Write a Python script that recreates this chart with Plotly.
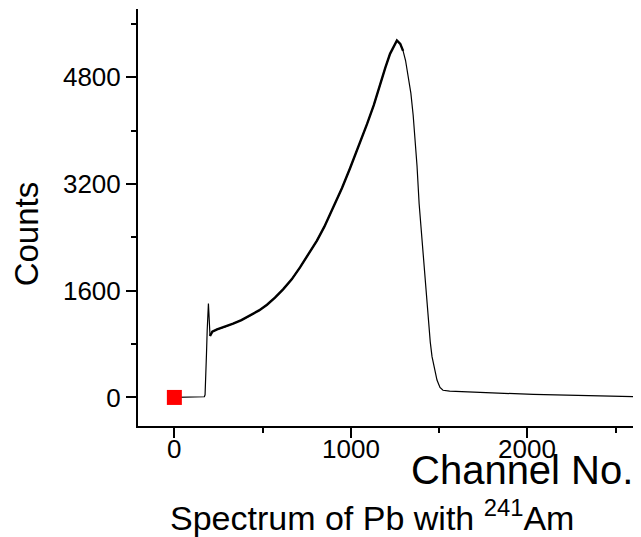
import plotly.graph_objects as go

# Spectrum (channel, counts)
channel = [0, 60, 120, 160, 170, 174, 178, 182, 186, 190, 193, 196, 199, 202,
           215, 242, 290, 333, 380, 429, 480, 525, 570, 616, 665, 712, 760, 808,
           850, 900, 950, 996, 1045, 1092, 1130, 1165, 1195, 1222, 1245, 1261,
           1280, 1296, 1310, 1324, 1340, 1353, 1365, 1375, 1387, 1398, 1409,
           1425, 1438, 1450, 1460, 1475, 1488, 1505, 1522, 1560, 1600, 1675,
           1800, 2034, 2300, 2640]
counts = [0, 0, 0, 2, 10, 40, 250, 650, 1000, 1250, 1406, 1250, 1050, 920,
          985, 1020, 1060, 1105, 1160, 1225, 1305, 1390, 1495, 1620, 1770,
          1950, 2140, 2350, 2560, 2840, 3140, 3440, 3770, 4100, 4380, 4700,
          4940, 5150, 5280, 5350, 5300, 5195, 5050, 4844, 4560, 4233, 3880,
          3469, 2900, 2520, 2139, 1600, 1115, 830, 611, 400, 260, 150, 107,
          95, 90, 76, 68, 46, 30, 10]

marker_x = [0]
marker_y = [0]

x_tick_vals = [0, 1000, 2000]
x_tick_text = ["0", "1000", "2000"]
y_tick_vals = [0, 1600, 3200, 4800]
y_tick_text = ["0", "1600", "3200", "4800"]

FONT = "Liberation Sans, Arial, sans-serif"

# the statistically noisy part of the spectrum is drawn with a heavier stroke
noisy = [i for i, c in enumerate(channel) if 202 <= c <= 1296]
i0, i1 = noisy[0], noisy[-1] + 1

fig = go.Figure()
fig.add_trace(go.Scatter(x=channel, y=counts, mode="lines",
                         line=dict(color="black", width=1.2),
                         showlegend=False, hoverinfo="skip"))
fig.add_trace(go.Scatter(x=channel[i0:i1], y=counts[i0:i1], mode="lines",
                         line=dict(color="black", width=2.4),
                         showlegend=False, hoverinfo="skip"))
fig.add_trace(go.Scatter(x=marker_x, y=marker_y, mode="markers",
                         marker=dict(symbol="square", size=15, color="#ff0000",
                                     line=dict(width=0)),
                         showlegend=False))

axis_common = dict(showline=True, linewidth=2, linecolor="black",
                   ticks="outside", ticklen=10, tickwidth=2, tickcolor="black",
                   showgrid=False, zeroline=False, mirror=False,
                   tickfont=dict(family=FONT, size=26, color="black"))

fig.update_xaxes(range=[-206, 2644], tickvals=x_tick_vals,
                 showticklabels=False,
                 minor=dict(ticks="outside", ticklen=5, tickwidth=2,
                            tickcolor="black", dtick=500, tick0=0, showgrid=False),
                 **axis_common)
fig.update_yaxes(range=[-428, 5822], tickvals=y_tick_vals,
                 ticktext=y_tick_text,
                 minor=dict(ticks="outside", ticklen=5, tickwidth=2,
                            tickcolor="black", dtick=800, tick0=0, showgrid=False),
                 **axis_common)

# x tick labels placed at the axis' own data positions
for v, t in zip(x_tick_vals, x_tick_text):
    fig.add_annotation(text=t, x=v, xref="x", y=-0.0545, yref="paper",
                       xanchor="center", yanchor="middle", showarrow=False,
                       font=dict(family=FONT, size=26, color="black"))

fig.add_annotation(text="Counts", xref="paper", yref="paper",
                   x=-0.2227, y=0.462, xanchor="center", yanchor="middle",
                   textangle=-90, showarrow=False,
                   font=dict(family=FONT, size=33, color="black"))
fig.add_annotation(text="Channel No.", xref="paper", yref="paper",
                   x=0.539, y=-0.1046, xanchor="left", yanchor="middle",
                   showarrow=False,
                   font=dict(family=FONT, size=40, color="black"))
fig.add_annotation(text="Spectrum of Pb with <sup>241</sup>Am", xref="paper",
                   yref="paper", x=0.4652, y=-0.2137, xanchor="center",
                   yanchor="middle", showarrow=False,
                   font=dict(family=FONT, size=34, color="black"))

# page body has an 8px default margin, so the figure is sized to fit
fig.update_layout(width=633, height=529,
                  margin=dict(l=130, r=0, t=1, b=111, pad=0),
                  plot_bgcolor="white", paper_bgcolor="white",
                  showlegend=False)

fig.write_html("out.html")
